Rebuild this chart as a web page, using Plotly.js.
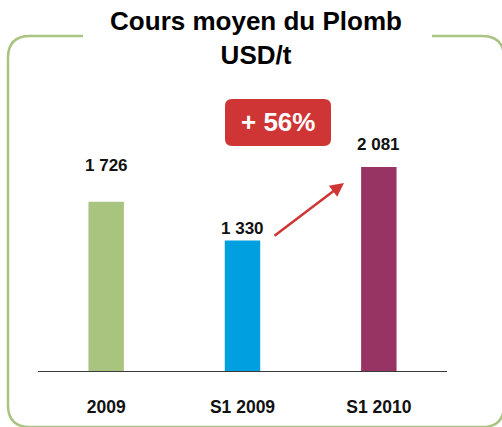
<!DOCTYPE html>
<html>
<head>
<meta charset="utf-8">
<script src="https://cdn.plot.ly/plotly-3.0.1.min.js"></script>
<style>html,body{margin:0;padding:0;background:#fff;}#chart{width:502px;height:427px;}</style>
</head>
<body>
<div id="chart"></div>
<script>
// ---- data ----
const categories = ['2009', 'S1 2009', 'S1 2010'];
const values = [1726, 1330, 2081];
const valueLabels = ['1 726', '1 330', '2 081'];
const changeLabel = '+ 56%';
const titleText = 'Cours moyen du Plomb<br>USD/t';

// ---- styles ----
const barColors = ['#a9c47f', '#009fdf', '#983464'];
const labelShift = [36, 12, 22];
const FONT = 'Liberation Sans, Arial, sans-serif';
const W = 502, H = 427;
const M = {l: 38, r: 55, t: 120, b: 56};
const PW = W - M.l - M.r, PH = H - M.t - M.b;
const px = x => (x - M.l) / PW;
const py = y => (H - M.b - y) / PH;
const idx = categories.map((c, i) => i);

function roundRect(x0, y0, x1, y1, r) {
  return `M${px(x0 + r)},${py(y0)} L${px(x1 - r)},${py(y0)} Q${px(x1)},${py(y0)} ${px(x1)},${py(y0 + r)} ` +
         `L${px(x1)},${py(y1 - r)} Q${px(x1)},${py(y1)} ${px(x1 - r)},${py(y1)} ` +
         `L${px(x0 + r)},${py(y1)} Q${px(x0)},${py(y1)} ${px(x0)},${py(y1 - r)} ` +
         `L${px(x0)},${py(y0 + r)} Q${px(x0)},${py(y0)} ${px(x0 + r)},${py(y0)} Z`;
}
// frame with a gap for the title
const fx0 = 8, fy0 = 36, fx1 = 504, fy1 = 427, fr = 22;
const framePath =
  `M${px(83)},${py(fy0)} L${px(fx0 + fr)},${py(fy0)} Q${px(fx0)},${py(fy0)} ${px(fx0)},${py(fy0 + fr)} ` +
  `L${px(fx0)},${py(fy1 - fr)} Q${px(fx0)},${py(fy1)} ${px(fx0 + fr)},${py(fy1)} ` +
  `L${px(fx1 - fr)},${py(fy1)} Q${px(fx1)},${py(fy1)} ${px(fx1)},${py(fy1 - fr)} ` +
  `L${px(fx1)},${py(fy0 + fr)} Q${px(fx1)},${py(fy0)} ${px(fx1 - fr)},${py(fy0)} L${px(432)},${py(fy0)}`;

const trace = {
  type: 'bar',
  x: idx,
  y: values,
  width: 0.26,
  marker: {color: barColors},
  hoverinfo: 'skip'
};

const annotations = idx.map(i => ({
  x: i, y: values[i], xref: 'x', yref: 'y',
  text: valueLabels[i], showarrow: false,
  yanchor: 'middle', yshift: labelShift[i],
  font: {family: FONT, size: 17, color: '#111', weight: 'bold'}
}));
annotations.push({
  xref: 'paper', yref: 'paper', x: px(278), y: py(122),
  text: changeLabel, showarrow: false,
  xanchor: 'center', yanchor: 'middle',
  font: {family: FONT, size: 26, color: '#ffffff', weight: 'bold'}
});
annotations.push({
  xref: 'paper', yref: 'paper', x: px(344), y: py(183),
  axref: 'pixel', ayref: 'pixel', ax: -71, ay: 54,
  text: '', showarrow: true, arrowhead: 2, arrowsize: 1.1, arrowwidth: 2.5,
  arrowcolor: '#d03535'
});

const layout = {
  width: W, height: H,
  margin: M,
  paper_bgcolor: '#ffffff', plot_bgcolor: '#ffffff',
  showlegend: false,
  title: {
    text: titleText, x: 256 / W, xanchor: 'center',
    yref: 'container', y: 1 - 30 / H, yanchor: 'top',
    font: {family: FONT, size: 26, color: '#000', weight: 'bold'}
  },
  xaxis: {
    type: 'linear', range: [-0.5, 2.5], tickmode: 'array', tickvals: idx, ticktext: categories,
    showline: true, linecolor: '#3a3a3a', linewidth: 1,
    showgrid: false, zeroline: false, ticks: '', ticklabelstandoff: 20,
    tickfont: {family: FONT, size: 17.5, color: '#111', weight: 'bold'},
    fixedrange: true
  },
  yaxis: {visible: false, range: [0, 2560], fixedrange: true},
  shapes: [
    {type: 'path', xref: 'paper', yref: 'paper', path: framePath,
     line: {color: '#a8c382', width: 2.5}, layer: 'below'},
    {type: 'path', xref: 'paper', yref: 'paper', path: roundRect(225, 99, 331, 146, 7),
     fillcolor: '#d03535', line: {width: 0}, layer: 'above'}
  ],
  annotations: annotations
};

Plotly.newPlot('chart', [trace], layout, {displayModeBar: false, staticPlot: true});
</script>
</body>
</html>
